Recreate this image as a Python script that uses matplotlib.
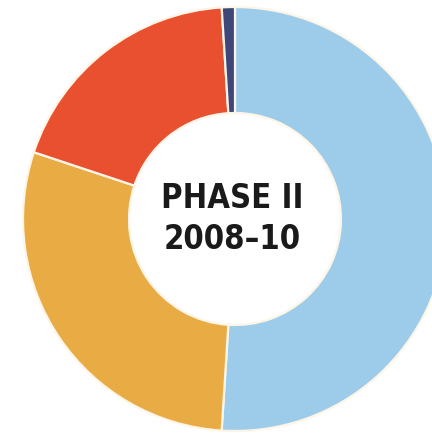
"""Phase II funding split, drawn as a donut with the period label in the hole."""

import matplotlib
matplotlib.use("Agg")
import matplotlib.pyplot as plt

# shares, clockwise from the top
labels = ["Blue", "Orange", "Red", "Navy"]
shares = [51.0, 29.1, 18.9, 1.0]
colors = ["#9dcbea", "#e9ac45", "#e8502f", "#3f4778"]
title = "PHASE II\n2008\u201310"

W, H = 432, 433
CX, CY, R = 235, 219, 212  # centre and outer radius in pixels

fig = plt.figure(figsize=(W / 100, H / 100), dpi=100)
ax = fig.add_axes([0, 0, 1, 1])

ax.pie(shares, colors=colors, startangle=90, counterclock=False, radius=1.0,
       wedgeprops=dict(width=0.5, edgecolor="#fdf6e8", linewidth=1.6))

ax.set_xlim(-CX / R, (W - CX) / R)
ax.set_ylim(-(H - CY) / R, CY / R)
ax.set_aspect("equal")
ax.axis("off")

ax.text(-0.015, 0.0, title, ha="center", va="center", fontsize=23.5,
        fontweight="bold", fontstretch="condensed", linespacing=1.28,
        family=["DejaVu Sans"], color="#1a1a1a")

fig.savefig("out.png", dpi=100)
